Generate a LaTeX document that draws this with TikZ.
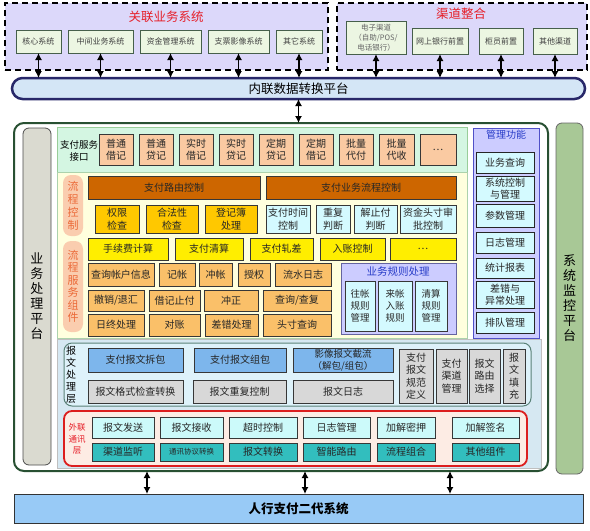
\documentclass[tikz,border=0pt]{standalone}
\usepackage{fontspec}
\setmainfont{Noto Sans CJK SC}
\usetikzlibrary{arrows.meta}
\definecolor{lavtop}{RGB}{220,216,250}
\definecolor{topfill}{RGB}{236,246,226}
\definecolor{topdraw}{RGB}{70,95,75}
\definecolor{platfill}{RGB}{212,230,246}
\definecolor{platdraw}{RGB}{40,40,105}
\definecolor{framedraw}{RGB}{40,80,50}
\definecolor{grayside}{RGB}{218,218,208}
\definecolor{greenside}{RGB}{168,200,150}
\definecolor{svcband}{RGB}{212,246,226}
\definecolor{svcfill}{RGB}{250,202,162}
\definecolor{yelregion}{RGB}{255,255,222}
\definecolor{pillfill}{RGB}{250,205,175}
\definecolor{pilltext}{RGB}{235,105,55}
\definecolor{darkorange}{RGB}{205,102,0}
\definecolor{gold}{RGB}{255,200,0}
\definecolor{lcyan}{RGB}{212,250,255}
\definecolor{byellow}{RGB}{255,238,0}
\definecolor{lorange}{RGB}{250,192,105}
\definecolor{lavbox}{RGB}{204,204,255}
\definecolor{lavdraw}{RGB}{100,100,160}
\definecolor{mgmtdraw}{RGB}{80,80,200}
\definecolor{titleblue}{RGB}{40,60,200}
\definecolor{titlered}{RGB}{230,30,40}
\definecolor{msgbg}{RGB}{214,232,242}
\definecolor{msglfill}{RGB}{222,242,250}
\definecolor{msgldraw}{RGB}{90,130,120}
\definecolor{bluebox}{RGB}{125,182,236}
\definecolor{graybox}{RGB}{216,216,216}
\definecolor{extfill}{RGB}{253,236,228}
\definecolor{extdraw}{RGB}{220,30,30}
\definecolor{cyanbox}{RGB}{204,250,250}
\definecolor{tealbox}{RGB}{50,190,190}
\definecolor{pbocfill}{RGB}{152,202,246}
\definecolor{boxdraw}{RGB}{55,55,55}
\newcommand\mybox[7]{\node[#6, minimum width={(#4-#2)*1pt}, minimum height={(#5-#3)*1pt}] (#1) at ({(#2+#4)/2},{(#3+#5)/2}) {#7};}
\tikzset{
 bx/.style={draw=boxdraw, line width=0.8pt, inner sep=0pt, outer sep=0pt, align=center, font=\fontsize{10}{12.5}\selectfont, text=black!85},
 region/.style={inner sep=0pt, outer sep=0pt},
 dashregion/.style={region, draw=black, fill=lavtop, line width=1.2pt, dash pattern=on 6pt off 4pt},
 topsys/.style={bx, fill=topfill, draw=topdraw, font=\fontsize{8}{10}\selectfont, text=black!75},
 svc/.style={bx, fill=svcfill},
 route/.style={bx, fill=darkorange},
 goldb/.style={bx, fill=gold},
 cyanb/.style={bx, fill=lcyan},
 yelb/.style={bx, fill=byellow},
 orb/.style={bx, fill=lorange},
 mgb/.style={bx, fill=lcyan, draw=black!85, line width=1pt},
 blueb/.style={bx, fill=bluebox},
 grayb/.style={bx, fill=graybox},
 cyb/.style={bx, fill=cyanbox},
 tealb/.style={bx, fill=tealbox},
 vtext/.style={align=center, inner sep=0pt},
 dbl/.style={line width=1.3pt, >={Latex[length=7pt,width=7pt]}, <->},
}
\begin{document}
\begin{tikzpicture}[x=1pt,y=-1pt]
\useasboundingbox (0,0) rectangle (590,531);
\fill[white] (0,0) rectangle (590,531);
% top groups
\mybox{relsys}{5}{3}{328}{70}{dashregion}{}
\node[text=titlered, font=\fontsize{12.5}{14}\selectfont] (reltitle) at (166,17) {关联业务系统};
\mybox{chan}{337}{3}{587}{70}{dashregion}{}
\node[text=titlered, font=\fontsize{12.5}{14}\selectfont] (chantitle) at (461,14) {渠道整合};
\mybox{sys1}{16}{30}{61}{53}{topsys}{核心系统}
\mybox{sys2}{68}{30}{133}{53}{topsys}{中间业务系统}
\mybox{sys3}{140}{30}{201}{53}{topsys}{资金管理系统}
\mybox{sys4}{208}{30}{269}{53}{topsys}{支票影像系统}
\mybox{sys5}{276}{30}{322}{53}{topsys}{其它系统}
\mybox{ch1}{346}{21}{406}{54}{topsys, font=\fontsize{7.5}{10}\selectfont, text=black!60}{电子渠道\\（自助/POS/\\电话银行）}
\mybox{ch2}{412}{28}{468}{54}{topsys}{网上银行前置}
\mybox{ch3}{479}{28}{523}{54}{topsys}{柜员前置}
\mybox{ch4}{533}{28}{577}{54}{topsys}{其他渠道}
% platform
\mybox{plat}{12}{78}{585}{99}{region, draw=platdraw, fill=platfill, line width=2.5pt, rounded corners=10.5pt, font=\fontsize{12.5}{14}\selectfont}{内联数据转换平台}
\foreach \n in {sys1,sys2,sys3,sys4,sys5,ch1,ch2,ch3,ch4}
  \draw[dbl] (\n.south) -- (\n.south |- plat.north);
% main frame
\mybox{main}{14}{123}{548}{471}{region, draw=framedraw, fill=white, line width=2pt, rounded corners=10pt}{}
\draw[dbl] (plat.south) -- (plat.south |- main.north);
\mybox{leftp}{23}{128}{51}{465}{region, draw=black!70, fill=grayside, line width=0.8pt, rounded corners=6pt, align=center, font=\fontsize{13}{15}\selectfont}{业\\务\\处\\理\\平\\台}
\mybox{rightp}{556}{123}{583}{474}{region, draw=black!60, fill=greenside, line width=0.8pt, rounded corners=6pt, align=center, font=\fontsize{13}{15}\selectfont}{系\\统\\监\\控\\平\\台}
% service interface band
\mybox{svc}{57}{127}{467}{172}{region, draw=green!35!gray!60, fill=svcband, line width=0.6pt}{}
\node[vtext, font=\fontsize{9.5}{12}\selectfont] (svclabel) at (79,151) {支付服务\\接口};
\mybox{v1}{99}{134}{133}{165}{svc}{普通\\借记}
\mybox{v2}{139}{134}{173}{165}{svc}{普通\\贷记}
\mybox{v3}{179}{134}{213}{165}{svc}{实时\\借记}
\mybox{v4}{219}{134}{253}{165}{svc}{实时\\贷记}
\mybox{v5}{259}{134}{293}{165}{svc}{定期\\贷记}
\mybox{v6}{299}{134}{333}{165}{svc}{定期\\借记}
\mybox{v7}{339}{134}{373}{165}{svc}{批量\\代付}
\mybox{v8}{379}{134}{414}{165}{svc}{批量\\代收}
\mybox{v9}{420}{134}{456}{165}{svc}{…}
% flow region
\mybox{yel}{57}{172}{467}{338}{region, draw=green!30!gray!50, fill=yelregion, line width=0.6pt}{}
\mybox{pill1}{63}{175}{83}{236}{region, fill=pillfill, rounded corners=8pt, text=pilltext, font=\fontsize{11}{13}\selectfont, align=center}{流\\程\\控\\制}
\mybox{pill2}{63}{241}{83}{332}{region, fill=pillfill, rounded corners=8pt, text=pilltext, font=\fontsize{11}{12.5}\selectfont, align=center}{流\\程\\服\\务\\组\\件}
\mybox{rt1}{88}{176}{260}{199}{route}{支付路由控制}
\mybox{rt2}{266}{176}{456}{199}{route}{支付业务流程控制}
\mybox{c1}{95}{205}{139}{233}{goldb}{权限\\检查}
\mybox{c2}{146}{205}{198}{233}{goldb}{合法性\\检查}
\mybox{c3}{205}{205}{257}{233}{goldb}{登记簿\\处理}
\mybox{c4}{266}{205}{310}{233}{cyanb}{支付时间\\控制}
\mybox{c5}{316}{205}{350}{233}{cyanb}{重复\\判断}
\mybox{c6}{354}{205}{397}{233}{cyanb}{解止付\\判断}
\mybox{c7}{400}{205}{456}{233}{cyanb}{资金头寸审\\批控制}
\mybox{s1}{88}{238}{168}{260}{yelb}{手续费计算}
\mybox{s2}{175}{238}{243}{260}{yelb}{支付清算}
\mybox{s3}{250}{238}{313}{260}{yelb}{支付轧差}
\mybox{s4}{320}{238}{385}{260}{yelb}{入账控制}
\mybox{s5}{390}{238}{456}{260}{yelb}{…}
\mybox{o1}{88}{263}{154}{286}{orb}{查询帐户信息}
\mybox{o2}{159}{263}{195}{286}{orb}{记帐}
\mybox{o3}{199}{263}{232}{286}{orb}{冲帐}
\mybox{o4}{238}{263}{270}{286}{orb}{授权}
\mybox{o5}{275}{263}{331}{286}{orb}{流水日志}
\mybox{p1}{88}{290}{144}{311}{orb}{撤销/退汇}
\mybox{p2}{149}{290}{200}{311}{orb}{借记止付}
\mybox{p3}{204}{290}{258}{311}{orb}{冲正}
\mybox{p4}{263}{290}{331}{311}{orb}{查询/查复}
\mybox{q1}{88}{314}{144}{336}{orb}{日终处理}
\mybox{q2}{149}{314}{200}{336}{orb}{对账}
\mybox{q3}{205}{314}{258}{336}{orb}{差错处理}
\mybox{q4}{263}{314}{331}{336}{orb}{头寸查询}
% business rules
\mybox{rule}{341}{263}{456}{334}{region, draw=lavdraw, fill=lavbox, line width=1pt}{}
\node[text=titleblue, font=\fontsize{10.5}{12}\selectfont] (ruletitle) at (398,272) {业务规则处理};
\mybox{r1}{345}{281}{375}{331}{cyanb, font=\fontsize{9.5}{12}\selectfont}{往帐\\规则\\管理}
\mybox{r2}{378}{281}{412}{331}{cyanb, font=\fontsize{9.5}{12}\selectfont}{来帐\\入账\\规则}
\mybox{r3}{415}{281}{447}{331}{cyanb, font=\fontsize{9.5}{12}\selectfont}{清算\\规则\\管理}
% management
\mybox{mgmt}{473}{128}{539}{338}{region, draw=mgmtdraw, fill=lavbox, line width=1pt}{}
\node[text=titleblue, font=\fontsize{10}{12}\selectfont] (mgmttitle) at (506,135) {管理功能};
\mybox{m1}{476}{152}{534}{173}{mgb}{业务查询}
\mybox{m2}{476}{176}{534}{201}{mgb}{系统控制\\与管理}
\mybox{m3}{476}{204}{534}{227}{mgb}{参数管理}
\mybox{m4}{476}{232}{534}{253}{mgb}{日志管理}
\mybox{m5}{476}{258}{534}{278}{mgb}{统计报表}
\mybox{m6}{476}{281}{534}{308}{mgb}{差错与\\异常处理}
\mybox{m7}{476}{312}{534}{333}{mgb}{排队管理}
% message layer
\mybox{msgbg}{57}{339}{541}{468}{region, draw=gray!50, fill=msgbg, line width=0.5pt}{}
\mybox{msgl}{64}{343}{531}{406}{region, draw=msgldraw, fill=msglfill, line width=1pt, rounded corners=8pt}{}
\node[vtext, font=\fontsize{10}{12}\selectfont] (msglabel) at (71,375) {报\\文\\处\\理\\层};
\mybox{b1}{88}{348}{183}{372}{blueb}{支付报文拆包}
\mybox{b2}{194}{348}{286}{372}{blueb}{支付报文组包}
\mybox{b3}{293}{348}{393}{372}{blueb, font=\fontsize{9.5}{12}\selectfont}{影像报文截流\\（解包/组包）}
\mybox{g1}{88}{380}{183}{403}{grayb}{报文格式检查转换}
\mybox{g2}{193}{380}{286}{403}{grayb}{报文重复控制}
\mybox{g3}{293}{380}{393}{403}{grayb}{报文日志}
\mybox{t1}{399}{349}{433}{403}{grayb}{支付\\报文\\规范\\定义}
\mybox{t2}{436}{349}{467}{403}{grayb}{支付\\渠道\\管理}
\mybox{t3}{469}{349}{500}{403}{grayb}{报文\\路由\\选择}
\mybox{t4}{503}{349}{525}{403}{grayb}{报\\文\\填\\充}
% external comm layer
\mybox{ext}{64}{411}{527}{466}{region, draw=extdraw, fill=extfill, line width=1.8pt, rounded corners=8pt}{}
\node[vtext, text=titlered, font=\fontsize{8.5}{11.5}\selectfont] (extlabel) at (77,439) {外联\\通讯\\层};
\mybox{e1}{92}{417}{154}{438}{cyb}{报文发送}
\mybox{e2}{160}{417}{223}{438}{cyb}{报文接收}
\mybox{e3}{229}{417}{297}{438}{cyb}{超时控制}
\mybox{e4}{303}{417}{370}{438}{cyb}{日志管理}
\mybox{e5}{377}{417}{435}{438}{cyb}{加解密押}
\mybox{e6}{452}{417}{519}{438}{cyb}{加解签名}
\mybox{f1}{92}{443}{154}{461}{tealb}{渠道监听}
\mybox{f2}{160}{443}{223}{461}{tealb, font=\fontsize{7.5}{9}\selectfont}{通讯协议转换}
\mybox{f3}{229}{443}{297}{461}{tealb}{报文转换}
\mybox{f4}{303}{443}{370}{461}{tealb}{智能路由}
\mybox{f5}{377}{443}{435}{461}{tealb}{流程组合}
\mybox{f6}{452}{443}{519}{461}{tealb}{其他组件}
% PBOC system
\mybox{pboc}{14}{494}{583}{523}{region, draw=black!80, fill=pbocfill, line width=0.9pt, font=\bfseries\fontsize{12.5}{14}\selectfont}{人行支付二代系统}
\coordinate (a1) at (147,471);
\coordinate (a2) at (305,471);
\coordinate (a3) at (450,471);
\foreach \a in {a1,a2,a3}
  \draw[dbl] (\a) -- (\a |- pboc.north);
\end{tikzpicture}
\end{document}
